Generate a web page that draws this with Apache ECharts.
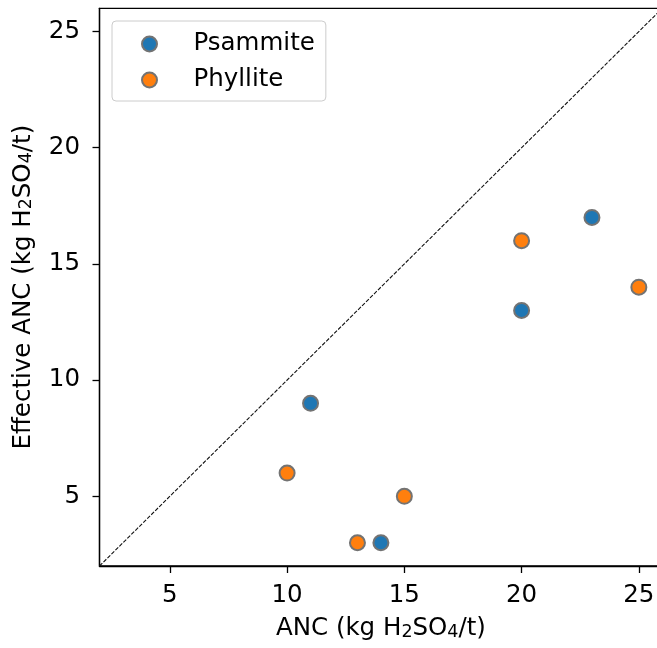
<!DOCTYPE html>
<html>
<head>
<meta charset="utf-8">
<script src="https://cdn.jsdelivr.net/npm/echarts@6/dist/echarts.min.js"></script>
<style>
  html, body { margin: 0; padding: 0; background: #fff; overflow: hidden; }
  /* the plot frame runs a few pixels past the right edge of the window */
  #chart { width: 663px; height: 648px; }
</style>
</head>
<body>
<div id="chart"></div>
<script>
// ANC vs effective ANC, both in kg H2SO4 per tonne
const psammiteANC = [11, 14, 20, 23];
const psammiteEff = [9, 3, 13, 17];
const phylliteANC = [10, 13, 15, 20, 25];
const phylliteEff = [6, 3, 5, 16, 14];
const tickValues = [5, 10, 15, 20, 25];
const axisRange = [2, 26];
const seriesNames = ['Psammite', 'Phyllite'];

const FONT = 'DejaVu Sans';
const FS = 24.5;
const pairs = (xs, ys) => xs.map((x, i) => [x, ys[i]]);

const subRich = {
  sub: { fontSize: 17.5, lineHeight: 17, verticalAlign: 'bottom', padding: [0, 0, 2, 0], fontFamily: FONT, color: '#000' }
};
const axisTitle = (prefix) => prefix + 'ANC (kg H{sub|2}SO{sub|4}/t)';

function axisCommon(name, gap, labelMargin) {
  return {
    type: 'value',
    min: axisRange[0],
    max: axisRange[1],
    name: name,
    nameLocation: 'middle',
    nameGap: gap,
    nameTextStyle: { fontFamily: FONT, fontSize: FS, lineHeight: 28, color: '#000', rich: subRich },
    axisLine: { show: true, lineStyle: { color: '#000', width: 1.3 } },
    axisTick: { show: true, inside: false, length: 7, lineStyle: { color: '#000', width: 1.3 }, customValues: tickValues },
    axisLabel: { fontFamily: FONT, fontSize: FS, color: '#000', margin: labelMargin, customValues: tickValues },
    splitLine: { show: false }
  };
}

const markerStyle = (color) => ({ color: color, borderColor: '#737373', borderWidth: 2, opacity: 1 });

const chart = echarts.init(document.getElementById('chart'), null, { renderer: 'canvas' });
chart.setOption({
  animation: false,
  backgroundColor: '#ffffff',
  grid: {
    left: 99.5, top: 8.3, width: 562.8, height: 558.4,
    show: true, borderColor: '#000', borderWidth: 1.3, backgroundColor: 'transparent'
  },
  xAxis: axisCommon(axisTitle(''), 49, 17.5),
  yAxis: axisCommon(axisTitle('Effective '), 59, 19.5),
  legend: {
    data: seriesNames,
    orient: 'vertical',
    left: 112, top: 21,
    itemWidth: 40, itemHeight: 15, itemGap: 10,
    padding: [10, 11, 8, 29],
    icon: 'circle',
    borderColor: '#cccccc', borderWidth: 1, borderRadius: 4,
    backgroundColor: 'rgba(255,255,255,0.8)',
    textStyle: { fontFamily: FONT, fontSize: FS, lineHeight: 26, color: '#000', padding: [0, 0, 0, 19] }
  },
  series: [
    {
      // 1:1 reference line across the plotted range
      type: 'line',
      data: [[axisRange[0], axisRange[0]], [axisRange[1], axisRange[1]]],
      symbol: 'none', silent: true, z: 1,
      lineStyle: { color: '#111', width: 1.1, type: [4, 1.6] }
    },
    {
      name: seriesNames[0], type: 'scatter', z: 3,
      symbolSize: 15,
      data: pairs(psammiteANC, psammiteEff),
      itemStyle: markerStyle('#1f77b4')
    },
    {
      name: seriesNames[1], type: 'scatter', z: 3,
      symbolSize: 15,
      data: pairs(phylliteANC, phylliteEff),
      itemStyle: markerStyle('#ff7f0e')
    }
  ]
});
</script>
</body>
</html>
